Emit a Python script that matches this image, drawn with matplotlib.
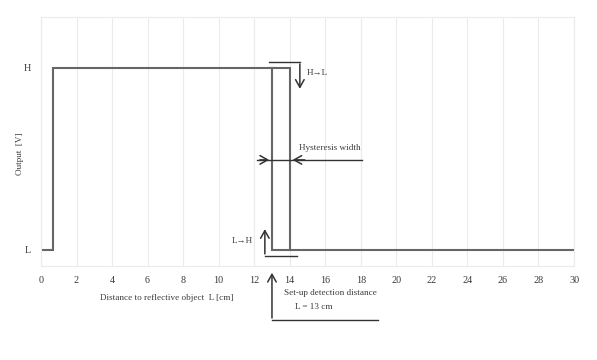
import matplotlib
matplotlib.use("Agg")
import matplotlib.pyplot as plt

plt.rcParams['font.family'] = ['Liberation Serif', 'DejaVu Serif']
plt.rcParams['font.size'] = 6.6

# output trace (L = 0, H = 1)
dist = [0, 0.7, 0.7, 14, 14, 30]
level = [0, 0, 1, 1, 0, 0]
# L -> H branch of the hysteresis
branch_x = [13, 13, 14]
branch_y = [1, 0, 0]

xticks = list(range(0, 31, 2))
ylevels = [0, 1]
ylabels = ["L", "H"]

line_col = "#666666"
ann_col = "#333333"
txt_col = "#3a3a3a"
grid_col = "#ebebeb"

fig = plt.figure(figsize=(5.97, 3.6), dpi=100)
ax = fig.add_axes([41 / 597, 1 - 266 / 360, 533 / 597, 249 / 360])

ax.plot(dist, level, color=line_col, lw=1.5, solid_joinstyle="miter")
ax.plot(branch_x, branch_y, color=line_col, lw=1.5, solid_joinstyle="miter")

ax.set_xlim(0, 30)
ax.set_ylim(-0.088, 1.28)
ax.set_xticks(xticks)
ax.set_yticks(ylevels)
ax.set_yticklabels(ylabels)
ax.grid(axis="x", color=grid_col, lw=0.8)
ax.grid(axis="y", visible=False)
for s in ax.spines.values():
    s.set_color(grid_col)
    s.set_linewidth(0.8)
ax.tick_params(axis="both", length=0, colors=txt_col, labelsize=7.3)
ax.tick_params(axis="x", pad=7)
ax.tick_params(axis="y", pad=7)

fig.text(20 / 597, 1 - 154 / 360, "Output  [V]", rotation=90,
         ha="center", va="center", color=txt_col)

arr = dict(arrowstyle="->,head_length=0.5,head_width=0.28", color=ann_col,
           lw=1.1, mutation_scale=11)

# H -> L
ax.plot([12.83, 14.57], [1.033, 1.033], color=ann_col, lw=1.0, clip_on=False)
ax.annotate("", xy=(14.57, 0.87), xytext=(14.57, 1.037), arrowprops=arr)
ax.text(14.97, 0.973, "H\u2192L", ha="left", va="center", color=txt_col)

# hysteresis width
ax.plot([12.16, 18.06], [0.495, 0.495], color=ann_col, lw=1.0)
ax.annotate("", xy=(13, 0.495), xytext=(12.16, 0.495), arrowprops=arr)
ax.annotate("", xy=(14, 0.495), xytext=(15.0, 0.495), arrowprops=arr)
ax.text(14.52, 0.56, "Hysteresis width", ha="left", va="center", color=txt_col)

# L -> H
ax.plot([12.6, 14.4], [-0.033, -0.033], color=ann_col, lw=1.0)
ax.annotate("", xy=(12.6, 0.13), xytext=(12.6, -0.037), arrowprops=arr)
ax.text(11.93, 0.05, "L\u2192H", ha="right", va="center", color=txt_col)

# set-up detection distance
ax.plot([13.0, 18.96], [-0.385, -0.385], color=ann_col, lw=1.0, clip_on=False)
ax.annotate("", xy=(13.0, -0.11), xytext=(13.0, -0.389), arrowprops=arr,
            annotation_clip=False)
ax.text(13.67, -0.236, "Set-up detection distance", ha="left", va="center",
        color=txt_col, clip_on=False)
ax.text(14.3, -0.313, "L = 13 cm", ha="left", va="center",
        color=txt_col, clip_on=False)

ax.text(3.32, -0.264, "Distance to reflective object  L [cm]", ha="left",
        va="center", color=txt_col, clip_on=False)

fig.savefig("out.png", dpi=100)
